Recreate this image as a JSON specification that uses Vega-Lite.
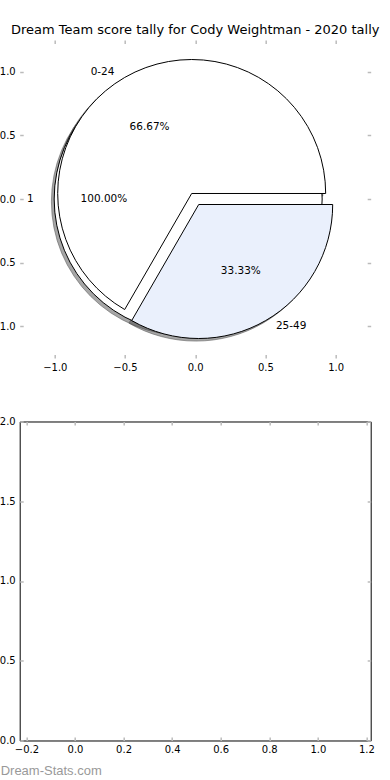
{
  "$schema": "https://vega.github.io/schema/vega-lite/v6.json",
  "background": "white",
  "padding": {"left": -9.3, "top": 24, "right": 0, "bottom": 0},
  "autosize": {"type": "pad"},
  "config": {
    "font": "DejaVu Sans",
    "view": {"stroke": "black", "strokeWidth": 1},
    "axis": {
      "grid": false,
      "domain": false,
      "labelFont": "DejaVu Sans",
      "labelFontSize": 10,
      "labelColor": "black",
      "tickColor": "#bbbbbb",
      "tickWidth": 1.5,
      "tickSize": -3.5,
      "title": null
    },
    "axisX": {"labelPadding": 8},
    "axisY": {"labelPadding": 8}
  },
  "datasets": {
    "wedges": [
      {"label": "1", "start": 0, "end": 360, "cx": -0.05, "cy": 0},
      {"label": "0-24", "start": 0, "end": 240, "cx": -0.025, "cy": 0.0433},
      {"label": "25-49", "start": 240, "end": 360, "cx": 0.025, "cy": -0.0433}
    ],
    "pcts": [
      {"text": "100.00%", "x": -0.65, "y": 0},
      {"text": "66.67%", "x": -0.325, "y": 0.563},
      {"text": "33.33%", "x": 0.325, "y": -0.563}
    ],
    "labels": [
      {"text": "1", "x": -1.15, "y": 0},
      {"text": "0-24", "x": -0.575, "y": 0.996},
      {"text": "25-49", "x": 0.575, "y": -0.996}
    ],
    "empty": []
  },
  "bounds": "flush",
  "spacing": 63.5,
  "vconcat": [
    {
      "width": 351,
      "height": 318,
      "view": {"stroke": null},
      "title": {
        "text": "Dream Team score tally for Cody Weightman - 2020 tally",
        "font": "DejaVu Sans",
        "fontSize": 13,
        "fontWeight": "normal",
        "color": "black",
        "anchor": "middle",
        "frame": "group",
        "baseline": "alphabetic",
        "offset": -8
      },
      "layer": [
        {
          "data": {"name": "wedges"},
          "mark": {"type": "arc", "radius": 134, "fill": "#4d4d4d", "fillOpacity": 0.5, "stroke": "#4d4d4d", "strokeOpacity": 0.5, "strokeWidth": 1, "xOffset": -2.8, "yOffset": 2.6},
          "encoding": {
            "x": {"field": "cx", "type": "quantitative", "scale": {"domain": [-1.25, 1.25], "nice": false, "zero": false}, "axis": {"orient": "bottom", "values": [-1, -0.5, 0, 0.5, 1], "format": ".1f"}},
            "y": {"field": "cy", "type": "quantitative", "scale": {"domain": [-1.25, 1.25], "nice": false, "zero": false}, "axis": {"orient": "left", "values": [-1, -0.5, 0, 0.5, 1], "format": ".1f"}},
            "theta": {"field": "start", "type": "quantitative", "scale": {"domain": [0, 360], "range": [1.5708, -4.7124]}, "stack": null},
            "theta2": {"field": "end"}
          }
        },
        {
          "data": {"name": "wedges"},
          "mark": {"type": "arc", "radius": 134, "stroke": "black", "strokeWidth": 1, "strokeJoin": "miter"},
          "encoding": {
            "x": {"field": "cx", "type": "quantitative", "axis": null},
            "y": {"field": "cy", "type": "quantitative", "axis": null},
            "theta": {"field": "start", "type": "quantitative", "scale": {"domain": [0, 360], "range": [1.5708, -4.7124]}, "stack": null},
            "theta2": {"field": "end"},
            "color": {"field": "label", "type": "nominal", "scale": {"domain": ["1", "0-24", "25-49"], "range": ["#ffffff", "#ffffff", "#eaf0fc"]}, "legend": null}
          }
        },
        {
          "data": {"name": "pcts"},
          "mark": {"type": "text", "font": "DejaVu Sans", "fontSize": 10.5, "color": "black", "align": "center", "baseline": "middle"},
          "encoding": {
            "x": {"field": "x", "type": "quantitative", "axis": {"orient": "top", "values": [-1, -0.5, 0, 0.5, 1], "labels": false}},
            "y": {"field": "y", "type": "quantitative", "axis": {"orient": "right", "values": [-1, -0.5, 0, 0.5, 1], "labels": false}},
            "text": {"field": "text"}
          }
        },
        {
          "data": {"name": "labels"},
          "mark": {"type": "text", "font": "DejaVu Sans", "fontSize": 10.5, "color": "black", "baseline": "middle", "align": {"expr": "datum.x < 0 ? 'right' : 'left'"}},
          "encoding": {
            "x": {"field": "x", "type": "quantitative", "axis": null},
            "y": {"field": "y", "type": "quantitative", "axis": null},
            "text": {"field": "text"}
          }
        }
      ],
      "resolve": {"axis": {"x": "independent", "y": "independent"}}
    },
    {
      "width": 351,
      "height": 319,
      "data": {"name": "empty"},
      "layer": [
        {
          "mark": "point",
          "encoding": {
            "x": {"field": "x", "type": "quantitative", "scale": {"domain": [-0.2276, 1.2177], "nice": false, "zero": false}, "axis": {"orient": "bottom", "values": [-0.2, 0, 0.2, 0.4, 0.6, 0.8, 1, 1.2], "format": ".1f", "title": "Dream-Stats.com", "titleFont": "Liberation Sans", "titleFontSize": 13, "titleFontWeight": "normal", "titleColor": "#999999", "titleAnchor": "start", "titleAlign": "left", "titleBaseline": "alphabetic", "titleX": -19.5, "titleY": 34}},
            "y": {"field": "y", "type": "quantitative", "scale": {"domain": [0, 2], "nice": false, "zero": false}, "axis": {"orient": "left", "values": [0, 0.5, 1, 1.5, 2], "format": ".1f"}}
          }
        },
        {
          "mark": "point",
          "encoding": {
            "x": {"field": "x", "type": "quantitative", "axis": {"orient": "top", "values": [-0.2, 0, 0.2, 0.4, 0.6, 0.8, 1, 1.2], "labels": false}},
            "y": {"field": "y", "type": "quantitative", "axis": {"orient": "right", "values": [0, 0.5, 1, 1.5, 2], "labels": false}}
          }
        }
      ],
      "resolve": {"axis": {"x": "independent", "y": "independent"}}
    }
  ]
}
